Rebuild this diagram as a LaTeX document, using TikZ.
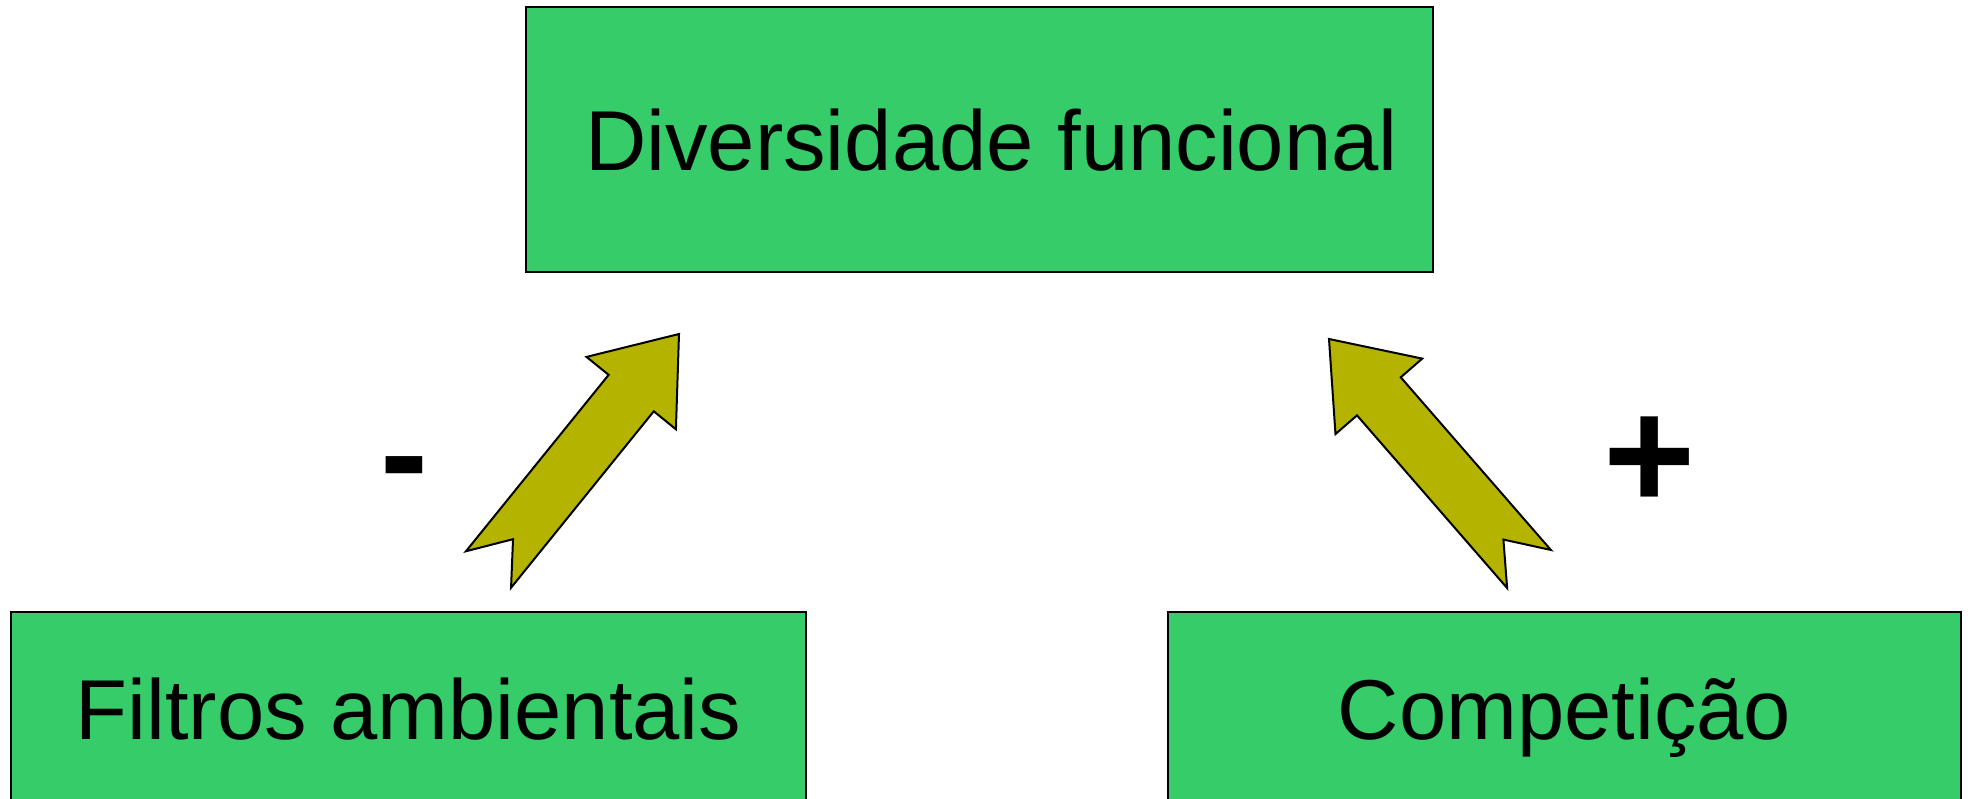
\documentclass[tikz,border=0pt]{standalone}
\usepackage{fontspec}
\setmainfont{Liberation Sans}
\usetikzlibrary{calc}
\definecolor{boxgreen}{RGB}{54,204,106}
\definecolor{arrowolive}{RGB}{180,180,0}
\begin{document}
\begin{tikzpicture}[
  x=1pt, y=1pt,
  factor/.style = {shape=rectangle, draw, line width=2pt, fill=boxgreen,
    font=\fontsize{85}{100}\selectfont, text height=63pt, text depth=0pt},
  sign/.style = {font=\fontsize{144}{160}\selectfont\bfseries, anchor=base, inner sep=0pt},
  bigarrow/.style = {draw, line width=2pt, fill=arrowolive}
]
  \useasboundingbox (0,0) rectangle (1968,798);
  \clip (0,0) rectangle (1968,798);
  \node[factor, minimum width=907pt, minimum height=265pt] (diversidade) at (979.5,658.5) {\hspace*{24pt}Diversidade funcional};
  \node[factor, minimum width=795pt, minimum height=193pt] (filtros) at (408.5,89.5) {Filtros ambientais};
  \node[factor, minimum width=793pt, minimum height=193pt] (competicao) at (1564.5,89.5) {Competição};
  % arrow ends
  \coordinate (ftail) at (488.5,228.5);
  \coordinate (fhead) at (679,464);
  \coordinate (ctail) at (1529,229);
  \coordinate (chead) at (1329,459);
  \foreach \t/\h in {ftail/fhead, ctail/chead} {
    \coordinate (base) at ($(\h)!76pt!(\t)$);
    \draw[bigarrow] (\h)
      -- ($(base)!57.5pt!90:(\h)$) -- ($(base)!29pt!90:(\h)$)
      -- ($(\t)!29pt!90:(\h)$) -- ($(\t)!39pt!(\h)$) -- ($(\t)!29pt!-90:(\h)$)
      -- ($(base)!29pt!-90:(\h)$) -- ($(base)!57.5pt!-90:(\h)$) -- cycle;
  }
  \node[sign] (minus) at (404.5,295) {-};
  \node[sign, font=\fontsize{158}{170}\selectfont\bfseries] (plus) at (1650,288) {+};
\end{tikzpicture}
\end{document}
